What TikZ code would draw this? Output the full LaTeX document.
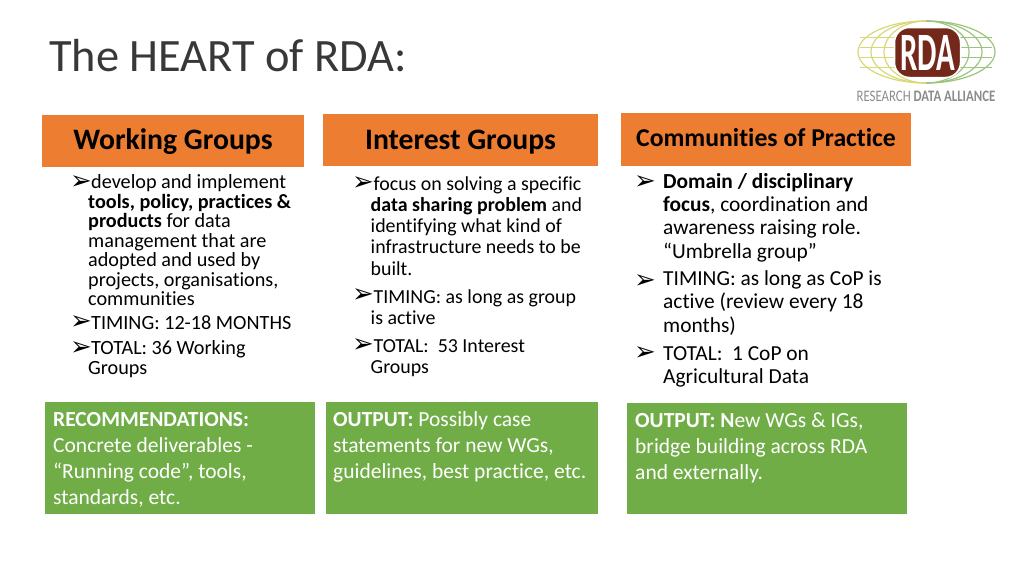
\documentclass[tikz,border=0pt]{standalone}
\usepackage{fontspec}
\setmainfont[Ligatures=CommonOff]{Carlito}
\newfontfamily\arrowfont{DejaVu Sans}
\definecolor{rdaorange}{HTML}{ED7D31}
\definecolor{rdagreen}{HTML}{70AD47}
\definecolor{rdabrown}{HTML}{74281A}
\definecolor{rdagrey}{HTML}{8C8C8C}
\definecolor{rdaleft}{HTML}{D8D878}
\definecolor{rdaright}{HTML}{9CC47C}
\begin{document}
\begin{tikzpicture}[x=1pt,y=-1pt,
	headbox/.style={fill=rdaorange,inner sep=0pt,font=\fontsize{29.7}{29.7}\selectfont\bfseries},
	outbox/.style={fill=rdagreen,inner sep=0pt,anchor=north west},
	outtext/.style={text=white,anchor=north west,inner sep=0pt,align=left,font=\fontsize{21.5}{26}\selectfont},
	wgtext/.style={anchor=north west,inner sep=0pt,align=left,font=\fontsize{20.2}{19.5}\selectfont},
	igtext/.style={anchor=north west,inner sep=0pt,align=left,font=\fontsize{19.9}{21.3}\selectfont},
	coptext/.style={anchor=north west,inner sep=0pt,align=left,font=\fontsize{21.4}{23.3}\selectfont},
	arrowmark/.style={inner sep=0pt,font=\arrowfont\fontsize{26}{26}\selectfont}]
	\useasboundingbox (0,0) rectangle (1024,576);

	\node[anchor=west,inner sep=0pt,text=black!78,font=\fontsize{46.4}{46.4}\selectfont] (title) at (49,56) {The HEART of RDA:};

	% headers
	\node[headbox,minimum width=262,minimum height=52] (wg) at (173,141) {};
	\node[inner sep=0pt,font=\fontsize{29.7}{29.7}\selectfont\bfseries] (wglabel) at (173,142) {Working Groups};
	\node[headbox,minimum width=275,minimum height=52] (ig) at (460.5,140) {};
	\node[inner sep=0pt,font=\fontsize{29.7}{29.7}\selectfont\bfseries] (iglabel) at (460.5,142) {Interest Groups};
	\node[headbox,minimum width=290,minimum height=53] (cop) at (766,139.5) {};
	\node[inner sep=0pt,font=\fontsize{25.7}{25.7}\selectfont\bfseries] (coplabel) at (766,138) {Communities of Practice};

	% first column
	\node[arrowmark] (wgt1) at (81,183) {➢};
	\node[wgtext] (wg1) at (88,174.5) {\hspace*{3pt}develop and implement\\\textbf{tools, policy, practices \&}\\\textbf{products} for data\\management that are\\adopted and used by\\projects, organisations,\\communities};
	\node[arrowmark] (wgt2) at (81,323) {➢};
	\node[wgtext] (wg2) at (88,315.5) {\hspace*{3pt}TIMING: 12-18 MONTHS};
	\node[arrowmark] (wgt3) at (81,349) {➢};
	\node[wgtext] (wg3) at (88,340.5) {\hspace*{3pt}TOTAL: 36 Working\\Groups};

	% second column
	\node[arrowmark] (igt1) at (363,184) {➢};
	\node[igtext] (ig1) at (370.5,176) {\hspace*{3pt}focus on solving a specific\\\textbf{data sharing problem} and\\identifying what kind of\\infrastructure needs to be\\built.};
	\node[arrowmark] (igt2) at (363,296) {➢};
	\node[igtext] (ig2) at (370.5,289) {\hspace*{3pt}TIMING: as long as group\\is active};
	\node[arrowmark] (igt3) at (363,346) {➢};
	\node[igtext] (ig3) at (370.5,339) {\hspace*{3pt}TOTAL:\ \ 53 Interest\\Groups};

	% third column
	\node[arrowmark] (copt1) at (645,183) {➢};
	\node[coptext] (cop1) at (663,173) {\textbf{Domain / disciplinary}\\\textbf{focus}, coordination and\\awareness raising role.\\“Umbrella group”};
	\node[arrowmark] (copt2) at (645,282) {➢};
	\node[coptext] (cop2) at (663,270.5) {TIMING: as long as CoP is\\active (review every 18\\months)};
	\node[arrowmark] (copt3) at (645,354) {➢};
	\node[coptext] (cop3) at (663,346) {TOTAL:\ \ 1 CoP on\\Agricultural Data};

	% green boxes
	\node[outbox,minimum width=270,minimum height=112] (rec) at (45,402) {};
	\node[outtext] (rectext) at (53,412) {\textbf{RECOMMENDATIONS:}\\Concrete deliverables -\\“Running code”, tools,\\standards, etc.};
	\node[outbox,minimum width=272,minimum height=112] (igout) at (326,402) {};
	\node[outtext] (igouttext) at (333,411) {\textbf{OUTPUT:} Possibly case\\statements for new WGs,\\guidelines, best practice, etc.};
	\node[outbox,minimum width=280,minimum height=111] (copout) at (627,403) {};
	\node[outtext] (copouttext) at (635,413) {\textbf{OUTPUT: N}ew WGs \& IGs,\\bridge building across RDA\\and externally.};

	% logo
	\begin{scope}
		\clip (850,15) rectangle (926,88);
		\foreach \r in {68,55,42}
			\draw[rdaleft,line width=1.2pt] (926,52) ellipse ({\r} and 31);
		\foreach \l in {37,47,57,67}
			\draw[rdaleft,line width=.9pt] (860,\l) -- (926,\l);
	\end{scope}
	\begin{scope}
		\clip (926,15) rectangle (1000,88);
		\foreach \r in {69,56,43}
			\draw[rdaright,line width=1.2pt] (926,52) ellipse ({\r} and 31);
		\foreach \l in {37,47,57,67}
			\draw[rdaright,line width=.9pt] (926,\l) -- (992,\l);
	\end{scope}
	\node[fill=rdabrown,draw=white,line width=1.5pt,rounded corners=15pt,minimum width=66,minimum height=50,inner sep=0pt] (logo) at (927.5,52.5) {};
	\node[inner sep=0pt,text=white,xscale=.57,transform shape,font=\fontsize{54}{54}\selectfont\bfseries] (logotext) at (927.5,52.5) {RDA};
	\node[inner sep=0pt,text=rdagrey,xscale=.8,transform shape,font=\fontsize{16}{16}\selectfont] (logoname) at (926,96) {RESEARCH \textbf{DATA ALLIANCE}};
\end{tikzpicture}
\end{document}
